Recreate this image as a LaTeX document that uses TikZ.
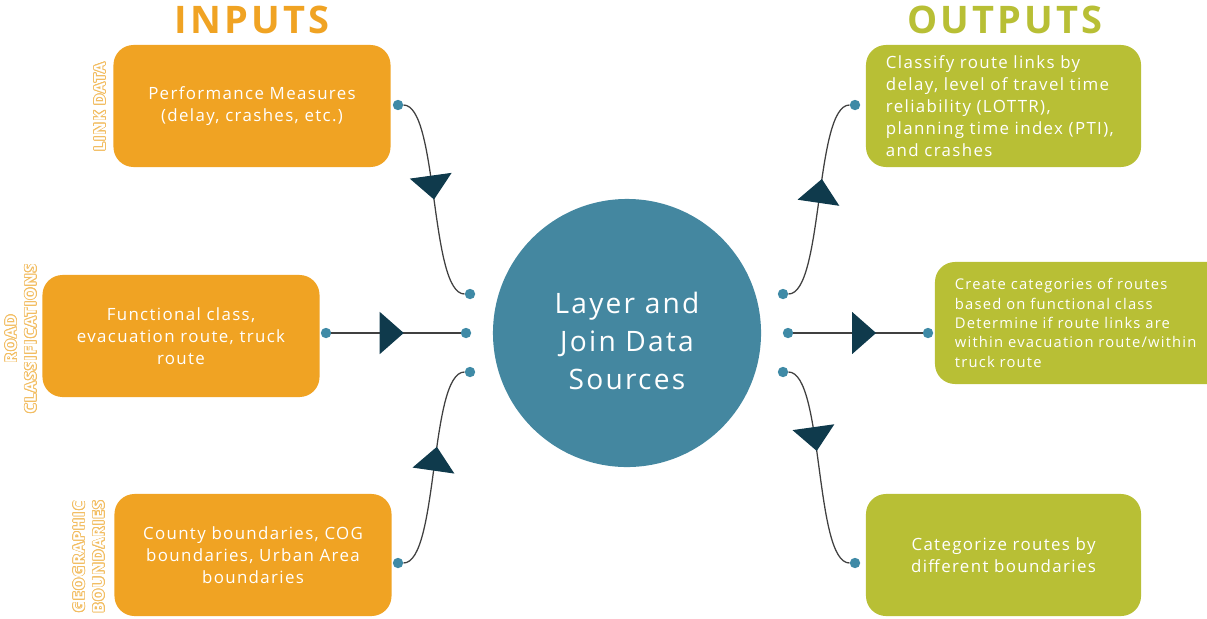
\documentclass[tikz,border=0pt]{standalone}
\usepackage{fontspec}
\setmainfont{Open Sans}[LetterSpace=8]
\usepackage{contour}
\contourlength{0.55pt}
\usetikzlibrary{arrows.meta,decorations.markings}

\definecolor{inOrange}{HTML}{F0A323}
\definecolor{outGreen}{HTML}{B8BF35}
\definecolor{hubBlue}{HTML}{4487A0}
\definecolor{dotBlue}{HTML}{3F8AA6}
\definecolor{tipTeal}{HTML}{0F3A4C}
\definecolor{tagOrange}{HTML}{F2BD62}
\definecolor{linkGray}{HTML}{404040}

\begin{document}
\begin{tikzpicture}[
    x=0.025cm, y=-0.025cm,
    inbox/.style={rectangle, rounded corners=0.5cm, fill=inOrange, text=white,
      minimum width=6.925cm, minimum height=3.05cm, align=center,
      font=\fontsize{12}{15.6}\selectfont},
    outbox/.style={rectangle, rounded corners=0.5cm, fill=outGreen, text=white,
      minimum height=3.05cm, inner xsep=0.5cm, align=left,
      font=\fontsize{12}{15.6}\selectfont},
    hub/.style={circle, fill=hubBlue, minimum size=6.7cm},
    dot/.style={circle, fill=dotBlue, minimum size=0.26cm, inner sep=0pt},
    link/.style={draw=linkGray, line width=0.9pt},
    flow/.style={decoration={markings, mark=at position #1 with
      {\arrow{Triangle[length=0.6cm, width=1.05cm, color=tipTeal]}}},
      postaction={decorate}},
    title/.style={font=\fontsize{27}{30}\bfseries\selectfont},
    tag/.style={rotate=90, text=white, align=center,
      font=\fontsize{11}{14}\bfseries\selectfont}
]

  % Frame of the picture (also clips the right output box)
  \path[use as bounding box, clip] (0,0) rectangle (1207,618);

  % Titles
  \node[title, text=inOrange] (inTitle) at (252,20) {INPUTS};
  \node[title, text=outGreen] (outTitle) at (1005,20) {OUTPUTS};

  % Central hub
  \node[hub] (hub) at (627,333) {};
  \node[text=white, align=center, font=\fontsize{20}{27}\selectfont] (hubText) at (627,341)
    {Layer and\\Join Data\\Sources};

  % Input boxes
  \node[inbox] (perf) at (252,106) {Performance Measures\\(delay, crashes, etc.)};
  \node[inbox] (road) at (181,336) {Functional class,\\evacuation route, truck\\route};
  \node[inbox] (geo)  at (253,555) {County boundaries, COG\\boundaries, Urban Area\\boundaries};

  % Side tags of the input boxes
  \node[tag] (tagLink) at (100,107) {\contour{tagOrange}{LINK DATA}};
  \node[tag] (tagRoad) at (21,339) {\contour{tagOrange}{ROAD}\\\contour{tagOrange}{CLASSIFICATIONS}};
  \node[tag] (tagGeo)  at (89,557) {\contour{tagOrange}{GEOGRAPHIC}\\\contour{tagOrange}{BOUNDARIES}};

  % Output boxes
  \node[outbox, text width=5.875cm] (classify) at (1003.5,106)
    {Classify route links by\\delay, level of travel time\\reliability (LOTTR),\\planning time index (PTI),\\and crashes};
  \node[outbox, text width=6.6cm, font=\fontsize{10.5}{13.8}\selectfont] (create) at (1087,323)
    {Create categories of routes\\based on functional class\\Determine if route links are\\within evacuation route/within\\truck route};
  \node[outbox, text width=5.875cm, align=center] (categ) at (1003.5,555)
    {Categorize routes by\\different boundaries};

  % Dots at the boxes
  \node[dot] (pPerf) at (398,105) {};
  \node[dot] (pRoad) at (326,333) {};
  \node[dot] (pGeo)  at (398,563) {};
  \node[dot] (pClassify) at (855,105) {};
  \node[dot] (pCreate)   at (928,333) {};
  \node[dot] (pCateg)    at (855,563) {};

  % Dots at the hub
  \node[dot] (hL1) at (470,294) {};
  \node[dot] (hL2) at (466,333) {};
  \node[dot] (hL3) at (470,372) {};
  \node[dot] (hR1) at (783,294) {};
  \node[dot] (hR2) at (788,333) {};
  \node[dot] (hR3) at (783,372) {};

  % Inputs flow into the hub
  \draw[link, flow=0.5]  (pPerf) to[out=0, in=180, looseness=0.45] (hL1);
  \draw[link, flow=0.56] (pRoad) -- (hL2);
  \draw[link, flow=0.6]  (pGeo)  to[out=0, in=180, looseness=0.45] (hL3);

  % Hub flows out to the outputs
  \draw[link, flow=0.6]  (hR1) to[out=0, in=180, looseness=0.45] (pClassify);
  \draw[link, flow=0.64] (hR2) -- (pCreate);
  \draw[link, flow=0.42] (hR3) to[out=0, in=180, looseness=0.45] (pCateg);

\end{tikzpicture}
\end{document}
